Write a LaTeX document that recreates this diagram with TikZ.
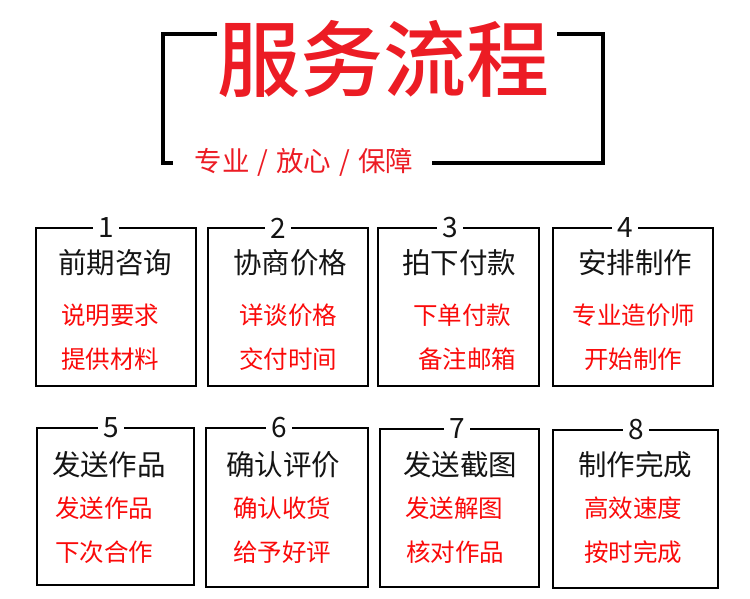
\documentclass[tikz,border=0pt]{standalone}
\usepackage{fontspec}
\newfontfamily\cjk{Noto Sans CJK SC}
\newfontfamily\cjkb{Noto Sans CJK SC Medium}
\definecolor{titlered}{RGB}{236,28,36}
\definecolor{itemred}{RGB}{250,10,10}
\definecolor{ink}{RGB}{20,20,20}
\tikzset{
  bracket/.style={line width=4pt, draw=black},
  stepbox/.style={draw=black, line width=2.7pt},
  numlbl/.style={fill=white, inner xsep=5pt, inner ysep=0pt, font=\cjk\fontsize{28}{28}\selectfont, text=ink},
  headlbl/.style={font=\cjk\fontsize{28.5}{30}\selectfont, text=ink, inner sep=0pt},
  itemlbl/.style={font=\cjk\fontsize{24.5}{26}\selectfont, text=itemred, inner sep=0pt},
}
\begin{document}
\begin{tikzpicture}[x=1pt,y=-1pt]
\useasboundingbox (0,0) rectangle (750,598);
% title bracket
\coordinate (tl) at (163,34);
\coordinate (tr) at (603,34);
\coordinate (bl) at (163,163);
\coordinate (br) at (603,163);
\draw[bracket] (217,34) -- (tl) -- (bl) -- (173,163);
\draw[bracket] (557,34) -- (tr) -- (br) -- (432,163);
\node[inner sep=0pt, text=titlered, font=\cjkb\fontsize{83}{83}\selectfont] (title) at (383,59) {服务流程};
\node[inner sep=0pt, text=titlered, font=\cjk\fontsize{27.5}{28}\selectfont] (sub) at (304,162) {专业\hspace{8pt}/\hspace{8pt}放心\hspace{8pt}/\hspace{8pt}保障};
% boxes row 1
\node[stepbox, minimum width=160pt, minimum height=158pt] (b1) at (116,307) {};
\node[stepbox, minimum width=160pt, minimum height=158pt] (b2) at (288,307) {};
\node[stepbox, minimum width=161pt, minimum height=158pt] (b3) at (458.5,307) {};
\node[stepbox, minimum width=160pt, minimum height=158pt] (b4) at (633,307) {};
% boxes row 2
\node[stepbox, minimum width=157pt, minimum height=157pt] (b5) at (115.5,506.5) {};
\node[stepbox, minimum width=162pt, minimum height=159pt] (b6) at (287,507.5) {};
\node[stepbox, minimum width=159pt, minimum height=158pt] (b7) at (459.5,508) {};
\node[stepbox, minimum width=165pt, minimum height=158pt] (b8) at (635.5,509) {};
% numbers
\node[numlbl] (n1) at (106,228) {1};
\node[numlbl] (n2) at (278,228) {2};
\node[numlbl] (n3) at (450,228) {3};
\node[numlbl] (n4) at (625,228) {4};
\node[numlbl] (n5) at (111,428) {5};
\node[numlbl] (n6) at (279,428) {6};
\node[numlbl] (n7) at (457,429) {7};
\node[numlbl] (n8) at (636,430) {8};
% headings
\node[headlbl] (h1) at (115,263) {前期咨询};
\node[headlbl] (h2) at (290,263) {协商价格};
\node[headlbl] (h3) at (459,263) {拍下付款};
\node[headlbl] (h4) at (635,263) {安排制作};
\node[headlbl] (h5) at (109,465) {发送作品};
\node[headlbl] (h6) at (283,465) {确认评价};
\node[headlbl] (h7) at (460,465) {发送截图};
\node[headlbl] (h8) at (635,465) {制作完成};
% items
\node[itemlbl] (a1) at (110,315) {说明要求};
\node[itemlbl] (c1) at (110,359) {提供材料};
\node[itemlbl] (a2) at (288,315) {详谈价格};
\node[itemlbl] (c2) at (288,359) {交付时间};
\node[itemlbl] (a3) at (462,315) {下单付款};
\node[itemlbl] (c3) at (467,359) {备注邮箱};
\node[itemlbl] (a4) at (634,315) {专业造价师};
\node[itemlbl] (c4) at (633,359) {开始制作};
\node[itemlbl] (a5) at (104,508) {发送作品};
\node[itemlbl] (c5) at (104,552) {下次合作};
\node[itemlbl] (a6) at (282,508) {确认收货};
\node[itemlbl] (c6) at (282,552) {给予好评};
\node[itemlbl] (a7) at (454,508) {发送解图};
\node[itemlbl] (c7) at (455,552) {核对作品};
\node[itemlbl] (a8) at (633,508) {高效速度};
\node[itemlbl] (c8) at (633,552) {按时完成};
\end{tikzpicture}
\end{document}
